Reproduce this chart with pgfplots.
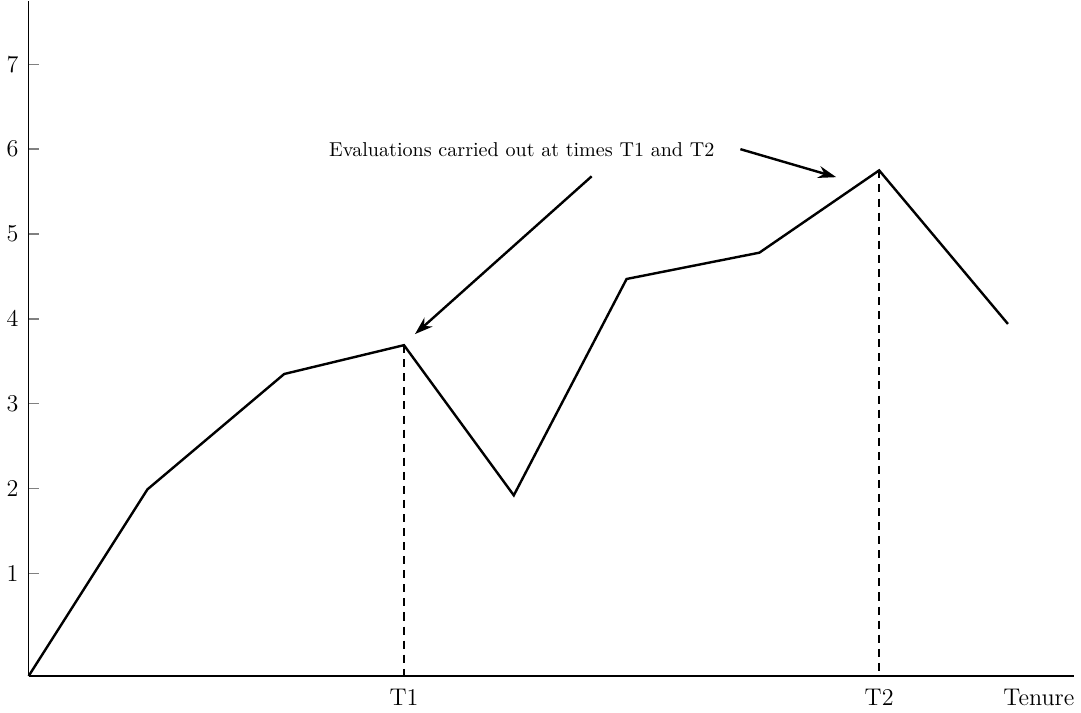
\documentclass[border=0pt]{standalone}
\usepackage{pgfplots}
\pgfplotsset{compat=1.18}
\usetikzlibrary{arrows.meta}

\begin{document}
\begin{tikzpicture}
\begin{axis}[
    scale only axis,
    width=520pt,
    height=336pt,
    axis lines=left,
    axis line style={-, line width=0.7pt},
    xmin=0, xmax=10.47,
    ymin=-0.21, ymax=7.75,
    ytick={1,2,3,4,5,6,7},
    xtick={3.76,8.52},
    xticklabels={T1,T2},
    extra x ticks={10.12},
    extra x tick labels={Tenure},
    extra x tick style={major tick length=0pt},
    x tick style={draw=none},
    y tick style={line width=0.7pt},
    tick align=inside,
    major tick length=5pt,
    tick label style={font=\large},
    yticklabel style={xshift=-1.5pt},
    xticklabel style={yshift=-3pt},
    clip=false,
]
% main series
\addplot[black, line width=1.2pt, mark=none] coordinates {
    (0,-0.21) (1.19,1.99) (2.56,3.35) (3.76,3.69) (4.86,1.92)
    (5.99,4.47) (7.32,4.78) (8.52,5.75) (9.81,3.94)
};
% evaluation times
\addplot[black, line width=0.7pt, dash pattern=on 4pt off 3pt, mark=none]
    coordinates {(3.76,3.69) (3.76,-0.21)};
\addplot[black, line width=0.7pt, dash pattern=on 4pt off 3pt, mark=none]
    coordinates {(8.52,5.75) (8.52,-0.21)};

\node[font=\normalsize] at (axis cs:4.94,5.99) {Evaluations carried out at times T1 and T2};
\draw[-{Stealth[length=9pt,width=6pt]}, line width=1.2pt]
    (axis cs:5.64,5.68) -- (axis cs:3.87,3.82);
\draw[-{Stealth[length=9pt,width=6pt]}, line width=1.2pt]
    (axis cs:7.13,6.0) -- (axis cs:8.09,5.67);
\end{axis}
\end{tikzpicture}
\end{document}
